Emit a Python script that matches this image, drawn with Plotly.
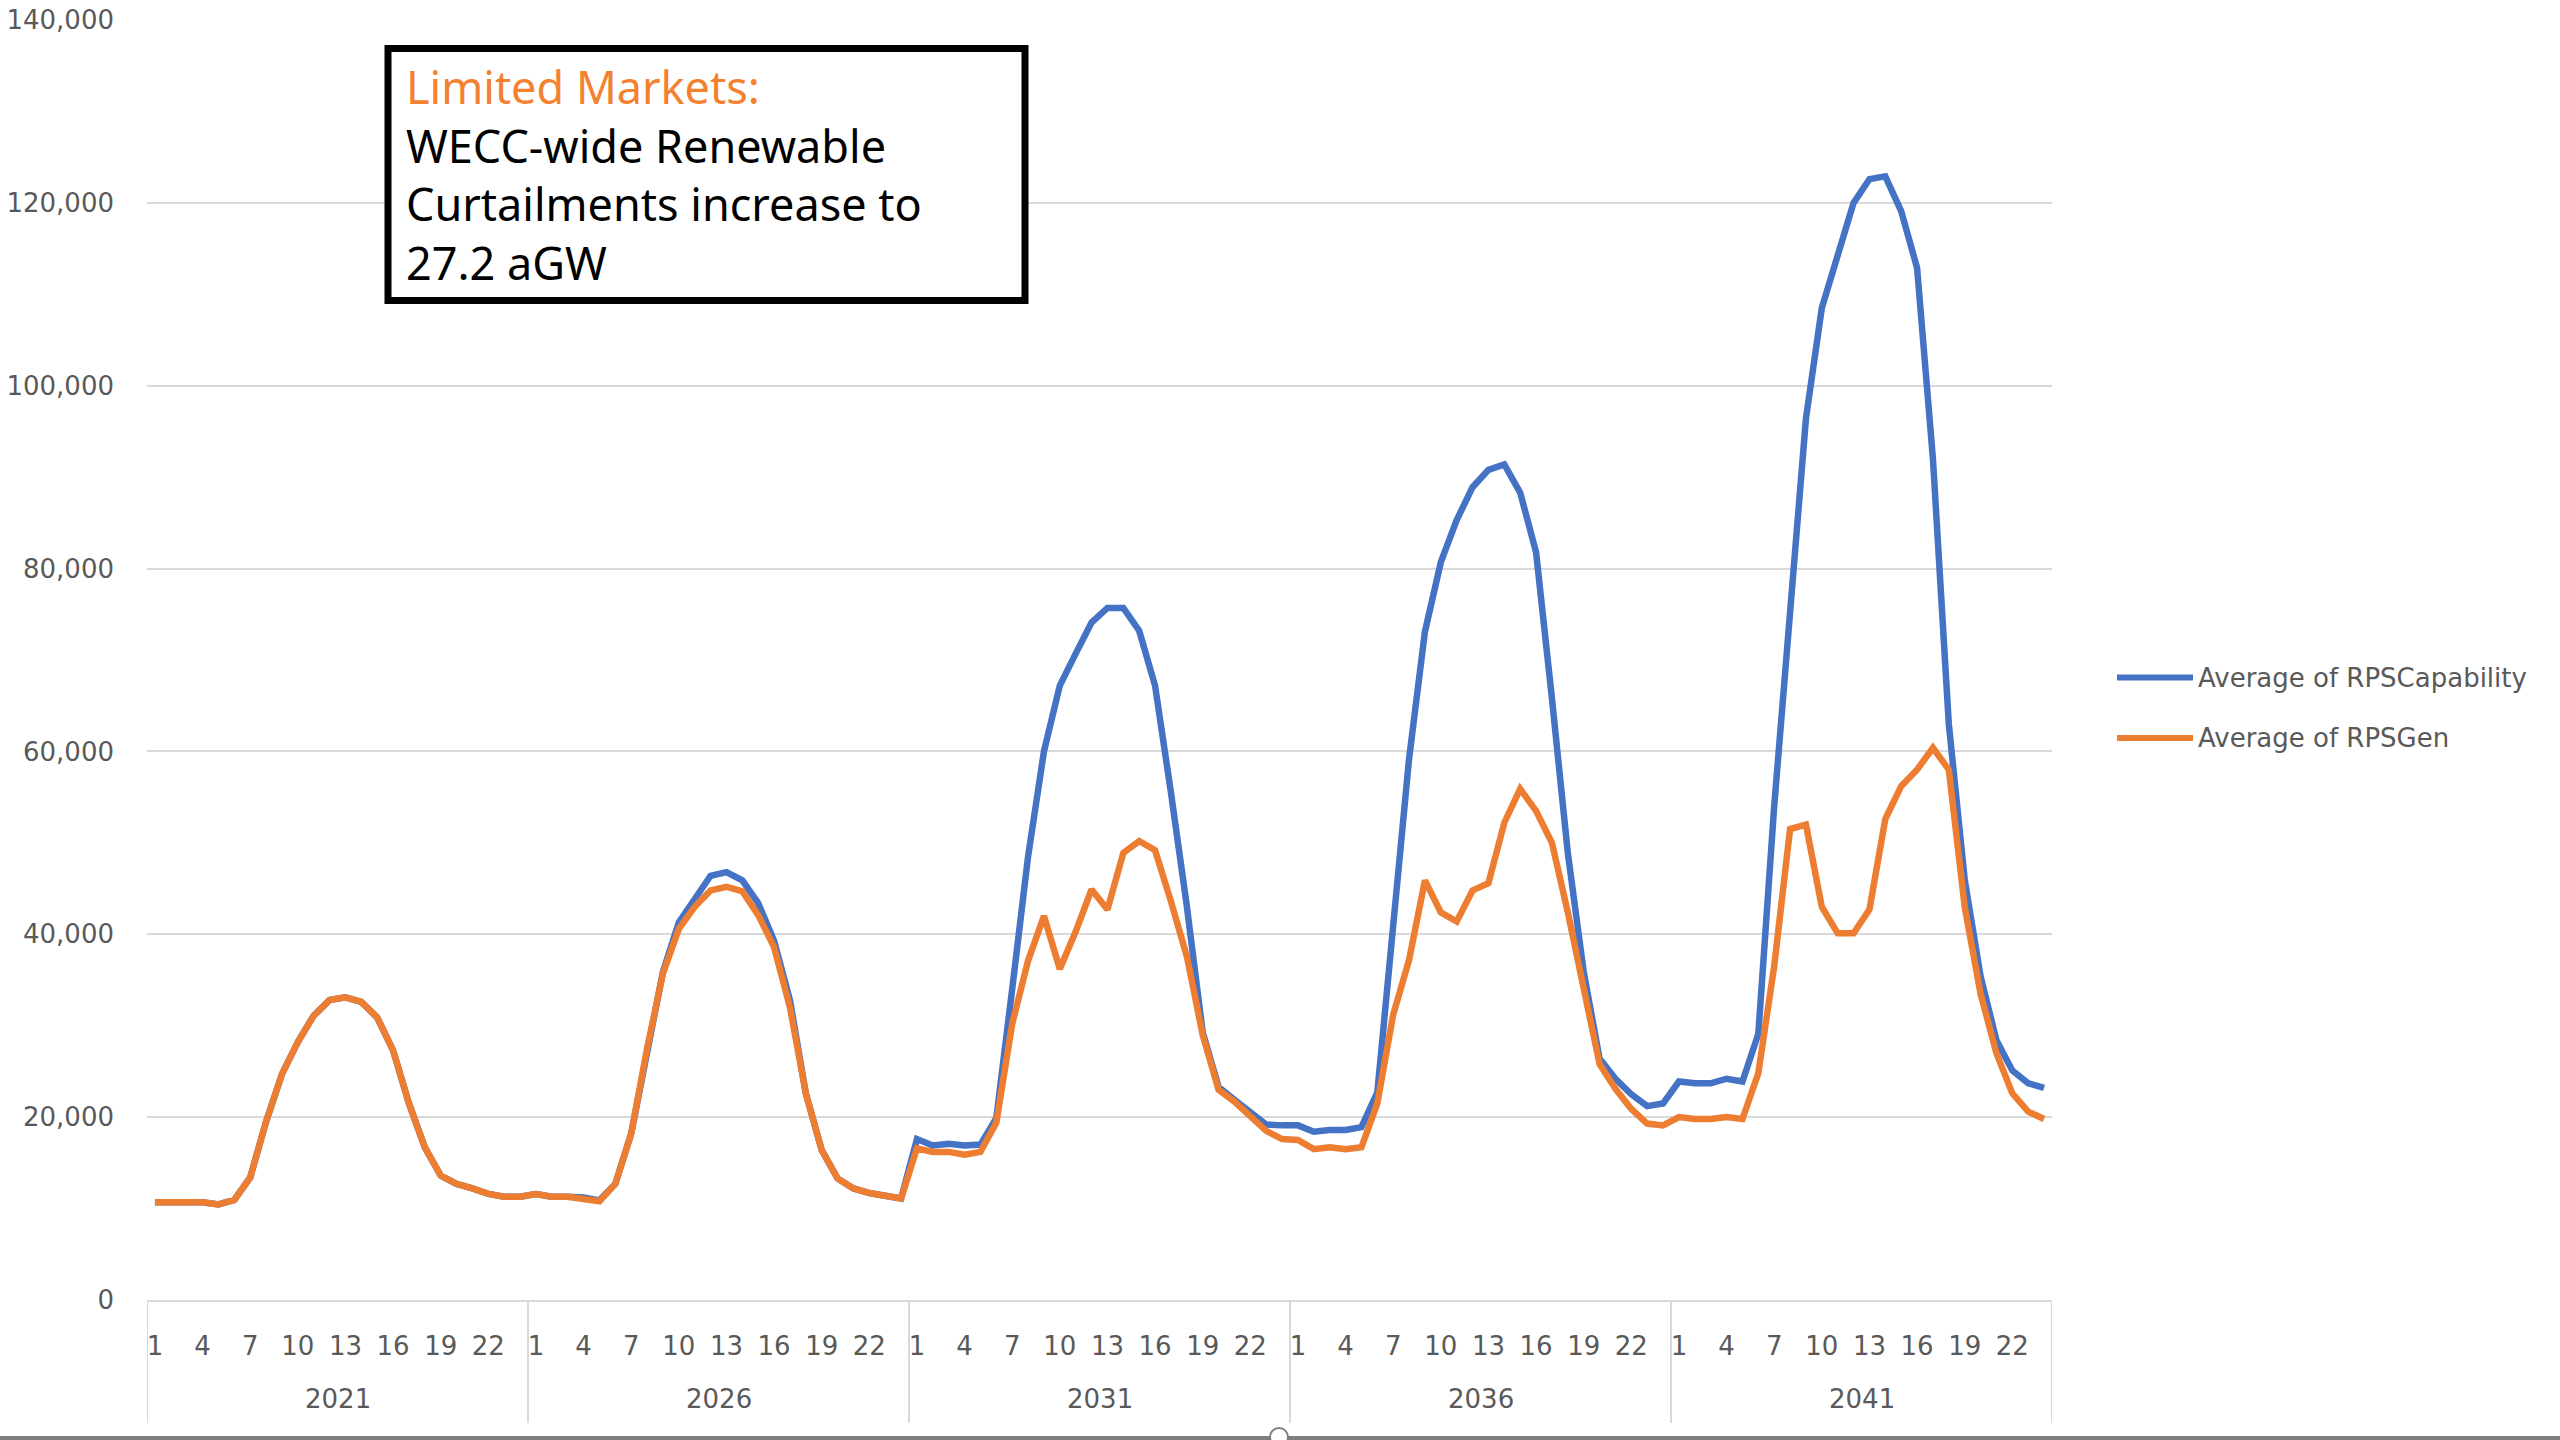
import plotly.graph_objects as go

# hourly averages (hour 1..24) for each study year
years = [2021, 2026, 2031, 2036, 2041]
hours = list(range(1, 25))

cap_2021 = [10700, 10700, 10700, 10700, 10450, 10950, 13400, 19500, 24700, 28200, 31100, 32800,
            33100, 32600, 30900, 27300, 21500, 16700, 13600, 12700, 12200, 11600, 11300, 11300]
gen_2021 = [10700, 10700, 10700, 10700, 10450, 10950, 13400, 19500, 24700, 28200, 31100, 32800,
            33100, 32600, 30900, 27300, 21500, 16700, 13600, 12700, 12200, 11600, 11300, 11300]

cap_2026 = [11600, 11300, 11300, 11200, 10900, 12700, 18200, 27500, 35900, 41300, 43900, 46400,
            46800, 45900, 43400, 39300, 32800, 22600, 16400, 13300, 12200, 11700, 11400, 11100]
gen_2026 = [11600, 11300, 11300, 11100, 10800, 12700, 18200, 27500, 35700, 40600, 43000, 44800,
            45200, 44700, 42100, 38600, 32000, 22600, 16400, 13300, 12200, 11700, 11400, 11100]

cap_2031 = [17600, 16900, 17100, 16900, 17000, 19900, 34000, 48500, 60000, 67200, 70700, 74100,
            75700, 75700, 73200, 67200, 55500, 43100, 29300, 23300, 21900, 20500, 19200, 19100]
gen_2031 = [16600, 16200, 16200, 15900, 16200, 19400, 30200, 37100, 42000, 36200, 40300, 44900,
            42700, 48900, 50200, 49200, 43600, 37600, 29000, 23000, 21700, 20100, 18500, 17600]

cap_2036 = [19100, 18400, 18600, 18600, 18900, 22700, 41800, 59200, 73100, 80700, 85300, 88900,
            90800, 91400, 88300, 81800, 65800, 48900, 35900, 26400, 24200, 22500, 21200, 21500]
gen_2036 = [17500, 16500, 16700, 16500, 16700, 21500, 31200, 37200, 45900, 42400, 41400, 44800,
            45600, 52200, 55900, 53500, 50000, 42400, 33700, 25800, 23100, 20900, 19300, 19100]

cap_2041 = [23900, 23700, 23700, 24200, 23900, 29100, 54000, 76000, 96400, 108500, 114400, 120000,
            122600, 122900, 119100, 112900, 92000, 63000, 46000, 35400, 28400, 25100, 23700, 23200]
gen_2041 = [20000, 19800, 19800, 20000, 19800, 24800, 36500, 51500, 52000, 43000, 40100, 40100,
            42700, 52600, 56200, 58000, 60400, 58000, 43000, 33500, 27000, 22600, 20600, 19800]

series_names = ["Average of RPSCapability", "Average of RPSGen"]
series_colors = ["#4472C4", "#ED7D31"]

capability = cap_2021 + cap_2026 + cap_2031 + cap_2036 + cap_2041
generation = gen_2021 + gen_2026 + gen_2031 + gen_2036 + gen_2041

# Flat position along the axis; year/hour labels are drawn on top of it
x = list(range(len(years) * len(hours)))
shown_hours = hours[::3]
tickvals = [i for i in x if hours[i % len(hours)] in shown_hours]
ticktext = [str(hours[i % len(hours)]) for i in tickvals]

W, H = 2560, 1440
ML, MR, MT, MB = 147, 508, 20, 140
PW, PH = W - ML - MR, H - MT - MB


def px_x(px):
    return (px - ML) / PW


def px_y(py):
    return (H - MB - py) / PH


grid = "#D9D9D9"
text_grey = "#595959"

fig = go.Figure()
for name, color, values in zip(series_names, series_colors, [capability, generation]):
    fig.add_trace(go.Scatter(x=x, y=values, name=name, mode="lines",
                             line=dict(color=color, width=6.5), showlegend=False))

shapes = []
annotations = []

# year group dividers and labels under the hour labels
n = len(hours)
for k, yr in enumerate(years):
    shapes.append(dict(type="line", xref="x", yref="paper", x0=k * n - 0.5, x1=k * n - 0.5,
                       y0=0, y1=px_y(1423), line=dict(color=grid, width=2)))
    annotations.append(dict(x=k * n + (n - 1) / 2, y=px_y(1399), xref="x", yref="paper",
                            text=str(yr), showarrow=False, yanchor="middle",
                            font=dict(size=26, color=text_grey)))
shapes.append(dict(type="line", xref="x", yref="paper", x0=len(x) - 0.5, x1=len(x) - 0.5,
                   y0=0, y1=px_y(1423), line=dict(color=grid, width=2)))

# hand-drawn legend to get the long Excel-style line samples
for j, (name, color) in enumerate(zip(series_names, series_colors)):
    yc = 677.6 + j * 60.4
    shapes.append(dict(type="line", xref="paper", yref="paper", x0=px_x(2117), x1=px_x(2193),
                       y0=px_y(yc), y1=px_y(yc), line=dict(color=color, width=6)))
    annotations.append(dict(x=px_x(2196), y=px_y(yc), xref="paper", yref="paper", text=name,
                            showarrow=False, xanchor="left", yanchor="middle",
                            font=dict(size=26, color=text_grey)))

# callout box
shapes.append(dict(type="rect", xref="paper", yref="paper", x0=px_x(388), x1=px_x(1025),
                   y0=px_y(300.5), y1=px_y(48.5), line=dict(color="black", width=7),
                   fillcolor="white", layer="above"))
annotations.append(dict(x=px_x(404), y=px_y(54), xref="paper", yref="paper", showarrow=False,
                        xanchor="left", yanchor="top", align="left",
                        text="<span style='color:#F4812F'>Limited Markets:</span><br>"
                             "WECC-wide Renewable<br>Curtailments increase to<br>27.2 aGW",
                        font=dict(family="Noto Sans", size=45, color="black")))

# slide edge visible at the bottom of the screenshot
shapes.append(dict(type="line", xref="paper", yref="paper", x0=px_x(0), x1=px_x(W),
                   y0=px_y(1438), y1=px_y(1438), line=dict(color="#7F7F7F", width=4)))
shapes.append(dict(type="circle", xref="paper", yref="paper", x0=px_x(1270), x1=px_x(1288),
                   y0=px_y(1446), y1=px_y(1428), line=dict(color="#7F7F7F", width=2),
                   fillcolor="white"))

fig.update_layout(
    width=W, height=H,
    margin=dict(l=ML, r=MR, t=MT, b=MB, autoexpand=False),
    paper_bgcolor="white", plot_bgcolor="white",
    font=dict(family="DejaVu Sans", size=26, color=text_grey),
    shapes=shapes, annotations=annotations,
    showlegend=False,
)
fig.update_xaxes(range=[-0.5, len(x) - 0.5], tickvals=tickvals, ticktext=ticktext,
                 showgrid=False, zeroline=False, showline=True, linecolor=grid, linewidth=2,
                 ticks="", ticklabelstandoff=22, automargin=False,
                 tickfont=dict(size=26, color=text_grey))
fig.update_yaxes(range=[0, 140000], dtick=20000, tickformat=",", showgrid=True,
                 gridcolor=grid, gridwidth=2, zeroline=False, showline=False, ticks="",
                 ticklabelstandoff=32, automargin=False,
                 tickfont=dict(size=26, color=text_grey))

fig.write_html("out.html", config={"displayModeBar": False},
               post_script="document.body.style.margin='0';")
